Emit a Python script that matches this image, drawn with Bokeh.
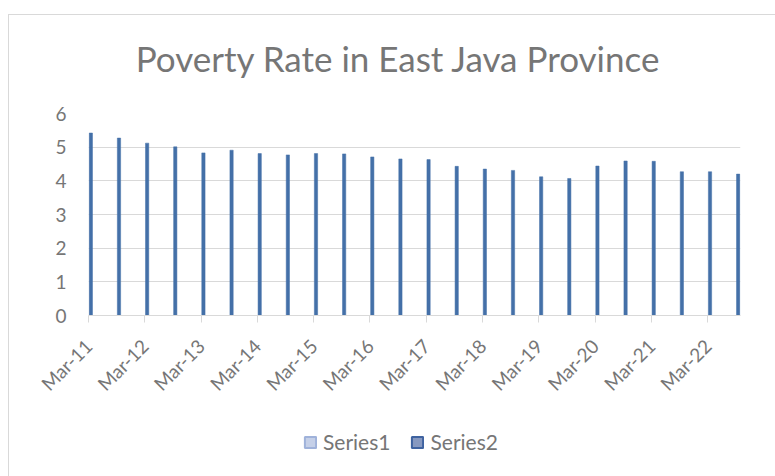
from bokeh.plotting import figure
from bokeh.layouts import column
from bokeh.models import (ColumnDataSource, Range1d, FixedTicker, Legend,
                          LegendItem, Label)
from bokeh.transform import dodge
from bokeh.embed import file_html
from bokeh.resources import INLINE
import math

# ---- data ----
periods = ["Mar-11", "Sep-11", "Mar-12", "Sep-12", "Mar-13", "Sep-13",
           "Mar-14", "Sep-14", "Mar-15", "Sep-15", "Mar-16", "Sep-16",
           "Mar-17", "Sep-17", "Mar-18", "Sep-18", "Mar-19", "Sep-19",
           "Mar-20", "Sep-20", "Mar-21", "Sep-21", "Mar-22", "Sep-22"]
series2 = [5.42, 5.27, 5.12, 5.01, 4.83, 4.91, 4.81, 4.77, 4.81, 4.80,
           4.71, 4.65, 4.63, 4.43, 4.35, 4.31, 4.12, 4.07, 4.44, 4.59,
           4.58, 4.27, 4.27, 4.20]
series1 = []
series_names = ["Series1", "Series2"]
tick_labels = ["Mar-11", "Mar-12", "Mar-13", "Mar-14", "Mar-15", "Mar-16",
               "Mar-17", "Mar-18", "Mar-19", "Mar-20", "Mar-21", "Mar-22"]
y_ticks = [0, 1, 2, 3, 4, 5, 6]
title_text = "Poverty Rate in East Java Province"

MONTHS = {"Jan": 1, "Feb": 2, "Mar": 3, "Apr": 4, "May": 5, "Jun": 6,
          "Jul": 7, "Aug": 8, "Sep": 9, "Oct": 10, "Nov": 11, "Dec": 12}


def month_index(label):
    mon, yy = label.split("-")
    return (int(yy) - 11) * 12 + (MONTHS[mon] - 3)


m_idx = [month_index(s) for s in periods]
tick_pos = [month_index(s) for s in tick_labels]
x_end = max(m_idx) + 1

FONT = "Lato"
TXT = "#767676"
GRID = "#d9d9d9"
W = 766


def bare(h):
    f = figure(width=W, height=h, output_backend="svg", toolbar_location=None,
               x_range=Range1d(0, 1), y_range=Range1d(0, 1),
               x_axis_location=None, y_axis_location=None, min_border=0)
    f.grid.visible = False
    f.outline_line_color = None
    return f


# ---- title strip (frame is aligned with the main chart's frame) ----
pt = bare(78)
pt.add_layout(Label(x=310, y=36, x_units="screen", y_units="screen",
                    text=title_text, text_font=FONT, text_font_size="35px",
                    text_color=TXT, text_align="center",
                    text_baseline="middle"))

# ---- main chart ----
p = figure(width=W, height=322, output_backend="svg", toolbar_location=None,
           x_range=Range1d(0, x_end), y_range=Range1d(0, 6),
           min_border_left=79, min_border_right=35, min_border_top=20,
           min_border_bottom=100)
p.outline_line_color = None

src2 = ColumnDataSource(dict(m=m_idx, v=series2))
p.vbar(x=dodge("m", 0.5, range=p.x_range), top="v", width=0.7, source=src2,
       fill_color="#4470a8", line_color="#4470a8", line_width=0.5)
src1 = ColumnDataSource(dict(m=[], v=series1))
p.vbar(x="m", top="v", width=0.7, source=src1, fill_color="#c5d0e8",
       line_color="#9fb2da")

p.xaxis.ticker = FixedTicker(ticks=tick_pos)
p.xaxis.major_label_overrides = {t: l for t, l in zip(tick_pos, tick_labels)}
p.xaxis.major_label_orientation = math.pi / 4
p.xaxis.major_label_text_font = FONT
p.xaxis.major_label_text_font_size = "19px"
p.xaxis.major_label_text_color = TXT
p.xaxis.axis_line_color = GRID
p.xaxis.major_tick_line_color = GRID
p.xaxis.major_tick_in = 0
p.xaxis.major_tick_out = 7
p.xaxis.minor_tick_line_color = None
p.xaxis.major_label_standoff = 20

p.yaxis.ticker = FixedTicker(ticks=y_ticks)
p.yaxis.major_label_text_font = FONT
p.yaxis.major_label_text_font_size = "19px"
p.yaxis.major_label_text_color = TXT
p.yaxis.axis_line_color = None
p.yaxis.major_tick_line_color = None
p.yaxis.minor_tick_line_color = None
p.yaxis.major_label_standoff = 16

p.xgrid.grid_line_color = None
p.ygrid.grid_line_color = GRID

# ---- legend strip ----
pl = bare(61)
nan = float("nan")
styles = [dict(fill_color="#c5d0e8", line_color="#9fb2da"),
          dict(fill_color="#8799c0", line_color="#3f63a0")]
items = []
for name, st in zip(series_names, styles):
    proxy = ColumnDataSource(dict(x=[0.5], top=[nan]))
    r = pl.vbar(x="x", top="top", width=0.1, source=proxy, line_width=2, **st)
    items.append(LegendItem(label=name, renderers=[r]))
legend = Legend(items=items, orientation="horizontal", location=(215, 22),
                glyph_width=14, glyph_height=14, label_standoff=6, spacing=20,
                padding=0, margin=0, border_line_color=None,
                background_fill_alpha=0, label_text_font=FONT,
                label_text_font_size="21px", label_text_color=TXT)
pl.add_layout(legend, "center")

layout = column(pt, p, pl, spacing=0)
layout.styles = {"border-top": "1px solid #d9d9d9",
                 "border-left": "1px solid #d9d9d9",
                 "margin-top": "14px", "margin-left": "8px"}

open("out.html", "w").write(file_html(layout, INLINE))
